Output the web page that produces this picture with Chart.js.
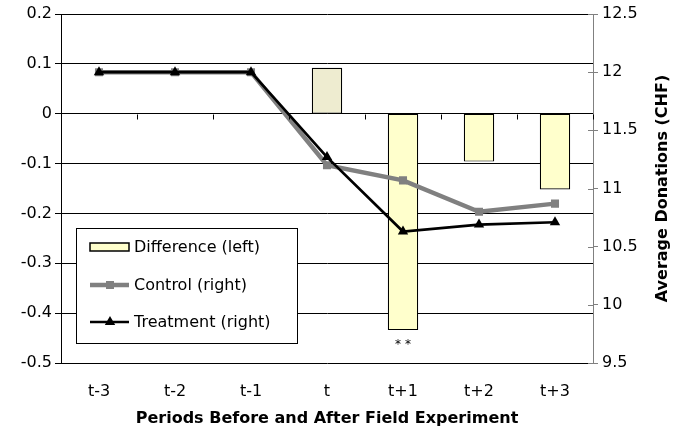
<!DOCTYPE html>
<html>
<head>
<meta charset="utf-8">
<script src="https://cdn.jsdelivr.net/npm/chart.js@4"></script>
<style>
  html, body { margin: 0; padding: 0; background: #fff; }
  #wrap { width: 675px; height: 433px; }
</style>
</head>
<body>
<div id="wrap"><canvas id="chart" width="675" height="433"></canvas></div>
<script>
const periods = ['t-3', 't-2', 't-1', 't', 't+1', 't+2', 't+3'];
const difference = [null, null, null, 0.092, -0.434, -0.096, -0.152];
const control = [12.0, 12.0, 12.0, 11.20, 11.07, 10.80, 10.87];
const treatment = [12.0, 12.0, 12.0, 11.27, 10.63, 10.69, 10.71];
const significance = ['', '', '', '', '* *', '', ''];

const FONT = 'DejaVu Sans, Verdana, sans-serif';
const SIZE = 16;

// strips float noise: "-0.0" -> "0", "12.0" -> "12"
const fmt = (v) => String(Number(v.toFixed(2)));

// legend box + extra annotations drawn on top
const extras = {
  id: 'extras',
  afterDraw(chart) {
    const ctx = chart.ctx;
    const y1 = chart.scales.y1;
    const x = chart.scales.x;
    const y = chart.scales.y;
    ctx.save();

    // inward ticks on the right axis
    ctx.strokeStyle = '#808080';
    ctx.lineWidth = 1;
    y1.ticks.forEach((t, i) => {
      const py = Math.round(y1.getPixelForTick(i)) + 0.5;
      ctx.beginPath();
      ctx.moveTo(y1.left - 5, py);
      ctx.lineTo(y1.left, py);
      ctx.stroke();
    });

    // category tick marks on the zero line
    ctx.strokeStyle = '#000';
    const zero = Math.round(y.getPixelForValue(0)) + 0.5;
    const step = (x.right - x.left) / periods.length;
    for (let i = 0; i <= periods.length; i++) {
      const px = Math.round(x.left + i * step) + 0.5;
      ctx.beginPath();
      ctx.moveTo(px, zero);
      ctx.lineTo(px, zero + 5);
      ctx.stroke();
    }

    // significance stars under bars
    const barMeta = chart.getDatasetMeta(0);
    ctx.fillStyle = '#000';
    ctx.font = '12px ' + FONT;
    ctx.textAlign = 'center';
    ctx.textBaseline = 'middle';
    significance.forEach((s, i) => {
      if (!s) return;
      const el = barMeta.data[i];
      ctx.fillText(s, el.x, el.y + 15);
    });

    // right axis title, reading bottom to top
    ctx.font = 'bold ' + SIZE + 'px ' + FONT;
    ctx.translate(663, (chart.chartArea.top + chart.chartArea.bottom) / 2);
    ctx.rotate(-Math.PI / 2);
    ctx.fillText('Average Donations (CHF)', 0, 0);
    ctx.setTransform(1, 0, 0, 1, 0, 0);

    // legend
    const bx = 76.5, by = 228.5, bw = 221, bh = 115;
    ctx.fillStyle = '#fff';
    ctx.fillRect(bx, by, bw, bh);
    ctx.strokeStyle = '#000';
    ctx.lineWidth = 1;
    ctx.strokeRect(bx, by, bw, bh);
    const rows = [247, 285, 322];
    ctx.font = SIZE + 'px ' + FONT;
    ctx.textAlign = 'left';
    chart.data.datasets.forEach((ds, i) => {
      const ry = rows[i];
      if (ds.type === 'bar') {
        ctx.fillStyle = '#FFFFCC';
        ctx.fillRect(90, ry - 4, 39, 8);
        ctx.lineWidth = 1.5;
        ctx.strokeStyle = '#000';
        ctx.strokeRect(90, ry - 4, 39, 8);
      } else {
        ctx.strokeStyle = ds.borderColor;
        ctx.lineWidth = ds.borderWidth;
        ctx.beginPath();
        ctx.moveTo(90, ry);
        ctx.lineTo(129, ry);
        ctx.stroke();
        ctx.fillStyle = ds.pointBackgroundColor;
        Chart.helpers.drawPoint(ctx, {
          pointStyle: ds.pointStyle,
          radius: ds.pointRadius,
          borderWidth: 0
        }, 110, ry);
      }
      ctx.fillStyle = '#000';
      ctx.fillText(ds.label, 134, ry + 1);
    });
    ctx.restore();
  }
};

new Chart(document.getElementById('chart'), {
  data: {
    labels: periods,
    datasets: [
      {
        type: 'bar',
        label: 'Difference (left)',
        data: difference,
        yAxisID: 'y',
        backgroundColor: (c) => (c.raw > 0 ? '#EEECD0' : '#FFFFCC'),
        borderColor: '#000',
        borderWidth: 1.2,
        borderSkipped: false,
        barPercentage: 0.4,
        categoryPercentage: 1,
        order: 3
      },
      {
        type: 'line',
        label: 'Control (right)',
        data: control,
        yAxisID: 'y1',
        borderColor: '#808080',
        backgroundColor: '#808080',
        pointBackgroundColor: '#808080',
        borderWidth: 4.5,
        pointStyle: 'rect',
        pointRadius: 5.7,
        pointBorderWidth: 0,
        tension: 0,
        order: 2
      },
      {
        type: 'line',
        label: 'Treatment (right)',
        data: treatment,
        yAxisID: 'y1',
        borderColor: '#000',
        backgroundColor: '#000',
        pointBackgroundColor: '#000',
        borderWidth: 2.7,
        pointStyle: 'triangle',
        pointRadius: 6,
        pointBorderWidth: 0,
        tension: 0,
        order: 1
      }
    ]
  },
  options: {
    responsive: false,
    animation: false,
    layout: { padding: { top: 14, left: 0, right: 0, bottom: 0 } },
    plugins: {
      legend: { display: false },
      tooltip: { enabled: false }
    },
    scales: {
      x: {
        offset: true,
        grid: { display: false },
        border: { display: false },
        ticks: { color: '#000', font: { family: FONT, size: SIZE }, padding: 11 },
        title: {
          display: true,
          text: 'Periods Before and After Field Experiment',
          color: '#000',
          font: { family: FONT, size: SIZE, weight: 'bold' },
          padding: { top: 5, bottom: 5 }
        },
        afterFit: (s) => { s.height = 70; }
      },
      y: {
        position: 'left',
        min: -0.5,
        max: 0.2,
        ticks: { stepSize: 0.1, color: '#000', font: { family: FONT, size: SIZE }, padding: 3, callback: fmt },
        grid: { color: '#000', lineWidth: 1, tickLength: 6 },
        border: { color: '#000', width: 1 },
        afterFit: (s) => { s.width = 61; }
      },
      y1: {
        position: 'right',
        min: 9.5,
        max: 12.5,
        ticks: { stepSize: 0.5, color: '#000', font: { family: FONT, size: SIZE }, padding: 4, callback: fmt },
        grid: { drawOnChartArea: false, color: '#808080', tickLength: 5 },
        border: { color: '#808080', width: 1 },
        afterFit: (s) => { s.width = 82; }
      }
    }
  },
  plugins: [extras]
});
</script>
</body>
</html>
